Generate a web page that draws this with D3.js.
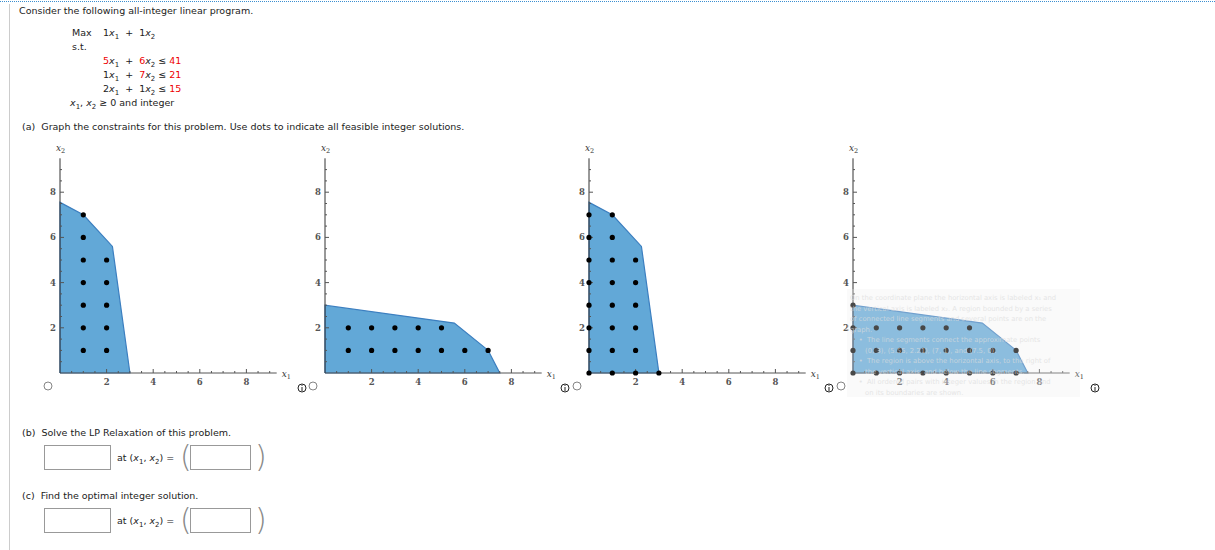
<!DOCTYPE html>
<html><head><meta charset="utf-8">
<script src="https://cdn.jsdelivr.net/npm/d3@7"></script>
<style>body{margin:0;background:#fff}svg{display:block}text{white-space:pre}</style>
</head><body><svg id="c" width="1215" height="550"></svg>
<script>
const origins = [60, 325, 589, 853];
const polyA = [[0,0],[0,7.55],[1,7],[2.25,5.6],[3,0]];
const polyB = [[0,0],[0,3],[5.55,2.21],[7,1],[7.5,0]];
const dots1 = [[1,1],[1,2],[1,3],[1,4],[1,5],[1,6],[1,7],[2,1],[2,2],[2,3],[2,4],[2,5]];
const dots2 = [[1,1],[2,1],[3,1],[4,1],[5,1],[6,1],[7,1],[1,2],[2,2],[3,2],[4,2],[5,2]];
const dots3 = [[0,0],[0,1],[0,2],[0,3],[0,4],[0,5],[0,6],[0,7],[1,0],[1,1],[1,2],[1,3],[1,4],[1,5],[1,6],[1,7],[2,0],[2,1],[2,2],[2,3],[2,4],[2,5],[3,0]];
const dots4 = [[0,0],[1,0],[2,0],[3,0],[4,0],[5,0],[6,0],[7,0],[0,1],[1,1],[2,1],[3,1],[4,1],[5,1],[6,1],[7,1],[0,2],[1,2],[2,2],[3,2],[4,2],[5,2],[0,3]];
const graphs = [{poly:polyA,dots:dots1},{poly:polyB,dots:dots2},{poly:polyA,dots:dots3},{poly:polyB,dots:dots4}];
const tickLabels = [2,4,6,8];

const svg = d3.select("#c");
const F = "Verdana, 'DejaVu Sans', sans-serif";
svg.append("line").attr("x1",0).attr("x2",1215).attr("y1",1.5).attr("y2",1.5).attr("stroke","#3b8fd0").attr("stroke-dasharray","1,1");
svg.append("line").attr("x1",9.5).attr("x2",9.5).attr("y1",4).attr("y2",550).attr("stroke","#ccc");

function txt(x,y,s,opt={}){return svg.append("text").attr("x",x).attr("y",y).attr("font-family",F).attr("font-size",opt.size||9.5).attr("fill",opt.fill||"#222").text(s);}
txt(19,14,"Consider the following all-integer linear program.");
txt(72,36,"Max");
function expr(x,y,parts){const t=svg.append("text").attr("x",x).attr("y",y).attr("font-family",F).attr("font-size",9.5).attr("fill","#222");
 parts.forEach(p=>{const ts=t.append("tspan").text(p[0]);if(p[1])ts.attr("fill","#e00");if(p[2]=="i")ts.attr("font-style","italic");if(p[2]=="s")ts.attr("font-size",7).attr("dy",3);if(p[2]=="u")ts.attr("dy",-3);});}
expr(103,36,[["1"],["x","","i"],["1","","s"],["  +  1","","u"],["x","","i"],["2","","s"]]);
txt(72,50,"s.t.");
const cons=[["5","6","41"],["1","7","21"],["2","1","15"]];
const redMask=[[1,1,1],[0,1,1],[0,0,1]];
cons.forEach((c,i)=>expr(103,64+i*14,[[c[0],redMask[i][0]],["x","","i"],["1","","s"],["  +  ","","u"],[c[1],redMask[i][1]],["x","","i"],["2","","s"],[" ≤ ","","u"],[c[2],redMask[i][2]]]));
expr(70,106,[["x","","i"],["1","","s"],[", ","","u"],["x","","i"],["2","","s"],[" ≥ 0 and integer","","u"]]);
txt(22,130,"(a)  Graph the constraints for this problem. Use dots to indicate all feasible integer solutions.");

const x = d3.scaleLinear().domain([0,1]).range([0,23.3]);
const y = d3.scaleLinear().domain([0,1]).range([0,-22.6]);
const y0 = 373;
graphs.forEach((g,gi)=>{
  const G = svg.append("g").attr("transform",`translate(${origins[gi]},${y0})`);
  G.append("path").attr("d",d3.line().x(d=>x(d[0])).y(d=>y(d[1]))(g.poly.concat([g.poly[0]])))
   .attr("fill","#62a8d7").attr("stroke","#3c7fc0").attr("stroke-width",1.2);
  G.append("line").attr("x1",0).attr("x2",x(9.3)).attr("y1",0).attr("y2",0).attr("stroke","#555");
  G.append("line").attr("x1",0).attr("x2",0).attr("y1",0).attr("y2",y(9.5)).attr("stroke","#333");
  d3.range(0.5,9.01,0.5).forEach(v=>{
    const L = v%2==0?4:2;
    G.append("line").attr("x1",x(v)).attr("x2",x(v)).attr("y1",0).attr("y2",-L).attr("stroke","#555");
    G.append("line").attr("y1",y(v)).attr("y2",y(v)).attr("x1",0).attr("x2",L).attr("stroke","#555");
  });
  tickLabels.forEach(v=>{
    G.append("text").attr("x",x(v)).attr("y",12).attr("text-anchor","middle").attr("font-family","'DejaVu Serif',serif").attr("font-size",8.5).attr("font-weight","bold").attr("fill","#555").text(v);
    G.append("text").attr("x",-4).attr("y",y(v)+3).attr("text-anchor","end").attr("font-family","'DejaVu Serif',serif").attr("font-size",8.5).attr("font-weight","bold").attr("fill","#555").text(v);
  });
  const lab=(xx,yy,s)=>{const t=G.append("text").attr("x",xx).attr("y",yy).attr("font-family","'DejaVu Serif',serif").attr("font-size",9).attr("fill","#333");t.append("tspan").attr("font-style","italic").text("x");t.append("tspan").attr("font-size",6.5).attr("dy",2).text(s);};
  lab(-4,-222,"2"); lab(x(9.3)+5,4,"1");
  G.selectAll("circle.d").data(g.dots).enter().append("circle").attr("cx",d=>x(d[0])).attr("cy",d=>y(d[1])).attr("r",2.6).attr("fill","#000");
});
const tip = ["On the coordinate plane the horizontal axis is labeled x₁ and","the vertical axis is labeled x₂. A region bounded by a series","of connected line segments and several points are on the","graph.","    •  The line segments connect the approximate points","       (0, 3), (5.55, 2.21), (7, 1), and (7.5, 0).","    •  The region is above the horizontal axis, to the right of","       the vertical axis, and below the line segments.","    •  All ordered pairs with integer values in the region and","       on its boundaries are shown."];
svg.append("rect").attr("x",847).attr("y",289).attr("width",233).attr("height",108).attr("fill","#f0f0f0").attr("opacity",0.3);
tip.forEach((s,i)=>svg.append("text").attr("x",850).attr("y",300+i*10.5).attr("font-family",F).attr("font-size",6.8).attr("fill","#ddd").attr("opacity",0.7).text(s));
[48,313,577,841].forEach(cx=>svg.append("circle").attr("cx",cx).attr("cy",386).attr("r",4).attr("fill","#fff").attr("stroke","#666").attr("stroke-width",0.8));
[302,565,829,1095].forEach(cx=>{svg.append("circle").attr("cx",cx).attr("cy",388).attr("r",4).attr("fill","#fff").attr("stroke","#222");
 svg.append("line").attr("x1",cx).attr("x2",cx).attr("y1",387).attr("y2",391).attr("stroke","#222");svg.append("circle").attr("cx",cx).attr("cy",385.3).attr("r",0.6).attr("fill","#222");});
[["(b)  Solve the LP Relaxation of this problem.",436],["(c)  Find the optimal integer solution.",499]].forEach(([s,yy])=>{
  txt(22,yy,s);
  const by=yy+9;
  svg.append("rect").attr("x",44.5).attr("y",by+0.5).attr("width",66).attr("height",24).attr("fill","#fff").attr("stroke","#999");
  expr(117,by+16,[["at ("],["x","","i"],["1","","s"],[", ","","u"],["x","","i"],["2","","s"],[") =","","u"]]);
  svg.append("text").attr("x",180).attr("y",by+22).attr("font-family",F).attr("font-size",30).attr("font-weight",100).attr("fill","#888").text("(");
  svg.append("rect").attr("x",190.5).attr("y",by+0.5).attr("width",60).attr("height",24).attr("fill","#fff").attr("stroke","#999");
  svg.append("text").attr("x",255).attr("y",by+22).attr("font-family",F).attr("font-size",30).attr("font-weight",100).attr("fill","#888").text(")");
});
</script></body></html>
